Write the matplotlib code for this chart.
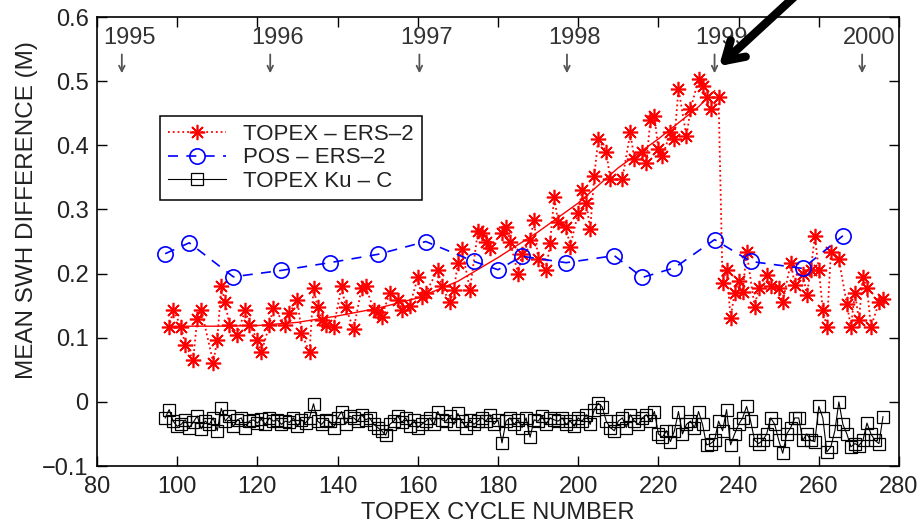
import numpy as np
import matplotlib.pyplot as plt

plt.rcParams['font.family'] = ['Liberation Sans', 'DejaVu Sans']

# TOPEX - ERS-2 (red asterisks)
topex_ers_cycle = [98, 99, 101, 102, 104, 105, 106, 109, 110, 111, 112, 113, 115, 117, 118,
                   120, 121, 123, 124, 127, 128, 130, 131, 133, 134, 135, 136, 137, 139, 141,
                   142, 144, 146, 147, 149, 150, 151, 153, 155, 156, 158, 160, 161, 162, 165,
                   166, 168, 169, 170, 171, 173, 175, 176, 177, 178, 181, 182, 183, 185, 186,
                   188, 189, 190, 192, 193, 194, 195, 197, 198, 200, 201, 202, 203, 204, 205,
                   207, 208, 211, 213, 214, 216, 217, 218, 219, 220, 221, 223, 224, 225, 227,
                   228, 230, 231, 232, 233, 235, 236, 237, 238, 239, 240, 241, 242, 244, 245,
                   247, 248, 250, 251, 253, 254, 256, 257, 258, 259, 260, 261, 262, 263, 265,
                   267, 268, 269, 270, 271, 272, 273, 275, 276]
topex_ers_swh = [0.116, 0.144, 0.117, 0.089, 0.066, 0.130, 0.144, 0.061, 0.097, 0.180, 0.155, 0.120, 0.105, 0.144, 0.120,
                 0.097, 0.077, 0.120, 0.147, 0.120, 0.139, 0.159, 0.108, 0.077, 0.178, 0.148, 0.128, 0.120, 0.117, 0.180,
                 0.148, 0.113, 0.178, 0.180, 0.144, 0.140, 0.133, 0.170, 0.159, 0.144, 0.150, 0.194, 0.164, 0.170, 0.206,
                 0.180, 0.155, 0.175, 0.217, 0.238, 0.175, 0.266, 0.264, 0.250, 0.240, 0.264, 0.272, 0.250, 0.200, 0.230,
                 0.253, 0.284, 0.222, 0.206, 0.248, 0.320, 0.280, 0.272, 0.242, 0.295, 0.331, 0.310, 0.269, 0.352, 0.410,
                 0.390, 0.347, 0.347, 0.420, 0.378, 0.390, 0.373, 0.440, 0.445, 0.394, 0.383, 0.420, 0.410, 0.488, 0.414,
                 0.456, 0.503, 0.492, 0.475, 0.456, 0.475, 0.186, 0.206, 0.131, 0.170, 0.188, 0.172, 0.233, 0.148, 0.178,
                 0.198, 0.180, 0.178, 0.156, 0.217, 0.183, 0.200, 0.167, 0.206, 0.258, 0.206, 0.144, 0.116, 0.233, 0.222,
                 0.152, 0.117, 0.170, 0.128, 0.195, 0.178, 0.117, 0.155, 0.160]

# smooth trend through TOPEX - ERS-2
trend_cycle = [98, 110, 120, 130, 140, 150, 160, 170, 180, 190, 200, 210, 220, 230, 234]
trend_swh = [0.118, 0.118, 0.119, 0.124, 0.134, 0.146, 0.162, 0.188, 0.225, 0.265, 0.310, 0.365, 0.410, 0.460, 0.485]

# POS - ERS-2 (blue circles)
pos_ers_cycle = [97, 103, 114, 126, 138, 150, 162, 174, 180, 186, 197, 209, 216, 224, 234, 243, 256, 266]
pos_ers_swh = [0.231, 0.248, 0.195, 0.205, 0.217, 0.230, 0.250, 0.219, 0.206, 0.227, 0.217, 0.228,
               0.194, 0.209, 0.253, 0.219, 0.208, 0.259]

# TOPEX Ku - C (black squares), one value per cycle from 97 to 276
kuc_cycle = list(range(97, 277))
kuc_swh = [-0.025, -0.012, -0.030, -0.038, -0.035, -0.028, -0.040, -0.032, -0.022, -0.042,
           -0.030, -0.035, -0.025, -0.045, -0.010, -0.030, -0.022, -0.038, -0.028, -0.025,
           -0.040, -0.030, -0.028, -0.033, -0.027, -0.035, -0.025, -0.030, -0.028, -0.035,
           -0.030, -0.032, -0.025, -0.038, -0.028, -0.033, -0.025, -0.003, -0.030, -0.035,
           -0.028, -0.030, -0.040, -0.025, -0.015, -0.035, -0.022, -0.025, -0.030, -0.020,
           -0.028, -0.025, -0.035, -0.040, -0.045, -0.052, -0.035, -0.030, -0.022, -0.032,
           -0.025, -0.038, -0.028, -0.040, -0.035, -0.030, -0.025, -0.035, -0.015, -0.028,
           -0.030, -0.022, -0.035, -0.018, -0.030, -0.040, -0.028, -0.035, -0.030, -0.025,
           -0.030, -0.020, -0.035, -0.028, -0.064, -0.030, -0.025, -0.035, -0.028, -0.040,
           -0.025, -0.055, -0.028, -0.030, -0.022, -0.035, -0.025, -0.028, -0.030, -0.025,
           -0.035, -0.030, -0.038, -0.025, -0.030, -0.020, -0.035, -0.012, -0.002, -0.008,
           -0.030, -0.040, -0.045, -0.030, -0.025, -0.040, -0.020, -0.030, -0.035, -0.025,
           -0.020, -0.030, -0.015, -0.050, -0.055, -0.045, -0.062, -0.045, -0.015, -0.050,
           -0.035, -0.030, -0.040, -0.015, -0.035, -0.067, -0.065, -0.060, -0.030, -0.045,
           -0.012, -0.067, -0.050, -0.035, -0.025, -0.007, -0.030, -0.060, -0.065, -0.060,
           -0.050, -0.025, -0.035, -0.060, -0.080, -0.050, -0.040, -0.025, -0.025, -0.060,
           -0.050, -0.060, -0.062, -0.007, -0.025, -0.078, -0.070, -0.045, 0.000, -0.035,
           -0.050, -0.070, -0.065, -0.068, -0.060, -0.033, -0.050, -0.060, -0.065, -0.023]

# year markers along the top
year_labels = ['1995', '1996', '1997', '1998', '1999', '2000']
year_cycle = [86.2, 123.2, 160.4, 197.2, 234.0, 270.8]

fig = plt.figure(figsize=(9.2, 5.32), dpi=100)
ax = fig.add_axes([0.1054, 0.124, 0.8718, 0.844])

asterisk = (8, 2, 0)
ax.plot(topex_ers_cycle, topex_ers_swh, color='red', linestyle=':', linewidth=1.3,
        marker=asterisk, markersize=11, markeredgewidth=1.2, label='TOPEX \u2013 ERS\u20132')
ax.plot(trend_cycle, trend_swh, color='red', linewidth=1.0)
ax.plot(pos_ers_cycle, pos_ers_swh, color='blue', linestyle=(0, (6, 5)), linewidth=1.2,
        marker='o', markersize=11, markerfacecolor='none', markeredgewidth=1.2,
        label='POS \u2013 ERS\u20132')
ax.plot(kuc_cycle, kuc_swh, color='black', linewidth=0.8,
        marker='s', markersize=8, markerfacecolor='none', markeredgewidth=0.9,
        label='TOPEX Ku \u2013 C')

# year label sits a little right of its arrow
for lab, c in zip(year_labels, year_cycle):
    ax.text(c + 1.8, 0.568, lab, ha='center', va='center', fontsize=17, color='#333333')
    ax.annotate('', xy=(c, 0.508), xytext=(c, 0.546),
                arrowprops=dict(arrowstyle='->', color='#555555', lw=1.3))

ax.set_xlim(80, 280)
ax.set_ylim(-0.1, 0.6)
ax.set_xticks(np.arange(80, 281, 20))
ax.set_yticks(np.arange(-0.1, 0.61, 0.1))
ax.set_yticklabels(['\u22120.1', '0', '0.1', '0.2', '0.3', '0.4', '0.5', '0.6'])
ax.tick_params(direction='in', top=True, right=True, length=7, width=1,
               labelsize=17, labelcolor='#222222')
ax.tick_params(axis='x', pad=7)
ax.tick_params(axis='y', pad=6)
for s in ax.spines.values():
    s.set_linewidth(1.2)

ax.set_xlabel('TOPEX CYCLE NUMBER', fontsize=17, color='#222222', labelpad=3)
ax.set_ylabel('MEAN SWH DIFFERENCE (M)', fontsize=17.5, color='#222222')
ax.yaxis.set_label_coords(-0.074, 0.57)

leg = ax.legend(loc='upper left', bbox_to_anchor=(0.0786, 0.7795), borderaxespad=0,
                fontsize=16, fancybox=False, framealpha=1, edgecolor='black',
                borderpad=0.35, handlelength=2.6, labelspacing=0.12)
leg.get_frame().set_linewidth(1.1)
for t in leg.get_texts():
    t.set_color('#222222')

# big pointer to the 1999 drop
ax.annotate('', xy=(717, 464), xycoords='figure pixels',
            xytext=(805, 545), textcoords='figure pixels',
            arrowprops=dict(arrowstyle='->, head_length=1.3, head_width=0.8',
                            color='black', lw=6),
            annotation_clip=False)

fig.savefig('out.png', dpi=100)
